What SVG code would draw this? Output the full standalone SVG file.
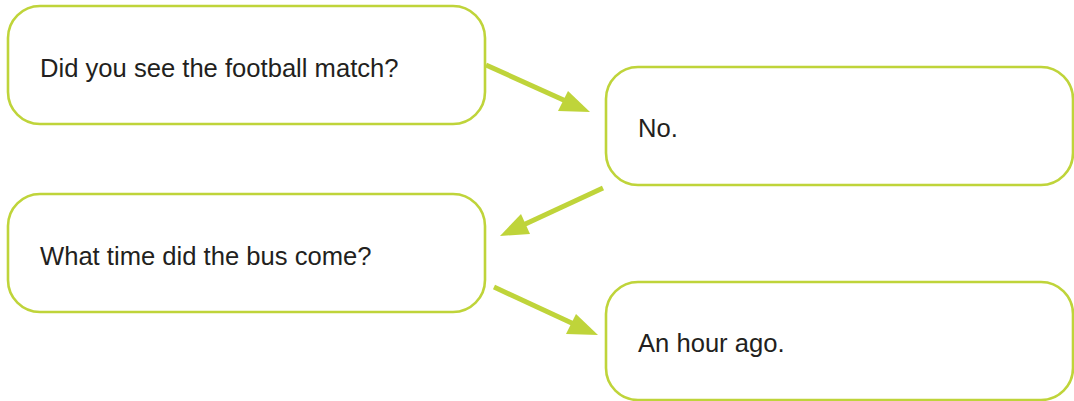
<svg xmlns="http://www.w3.org/2000/svg" width="1074" height="401" viewBox="0 0 1074 401">
<defs>
<style>
.box{fill:#ffffff;stroke:#bfd43a;stroke-width:2.6}
.lbl{font-family:"Liberation Sans",Arial,sans-serif;font-size:25.6px;fill:#231f20}
.con{stroke:#bfd43a;stroke-width:5;fill:none}
.head{fill:#bfd43a}
</style>
</defs>
<rect width="1074" height="401" fill="#ffffff"/>
<g id="n1"><rect class="box" x="8" y="6" width="477" height="118" rx="32" ry="32"/><text class="lbl" x="40" y="77">Did you see the football match?</text></g>
<g id="n2"><rect class="box" x="606" y="67" width="467" height="118" rx="32" ry="32"/><text class="lbl" x="638" y="137">No.</text></g>
<g id="n3"><rect class="box" x="8" y="194" width="477" height="118" rx="32" ry="32"/><text class="lbl" x="40" y="265">What time did the bus come?</text></g>
<g id="n4"><rect class="box" x="606" y="282" width="467" height="118" rx="32" ry="32"/><text class="lbl" x="638" y="352">An hour ago.</text></g>
<g id="connectors">
<line class="con" x1="486" y1="65" x2="568" y2="102"/>
<polygon class="head" points="590,112 558,111 568,91"/>
<line class="con" x1="603" y1="188" x2="521" y2="226"/>
<polygon class="head" points="500,236 521,214 530,234"/>
<line class="con" x1="494" y1="287" x2="576" y2="325"/>
<polygon class="head" points="598,335 566,334 576,314"/>
</g>
</svg>
